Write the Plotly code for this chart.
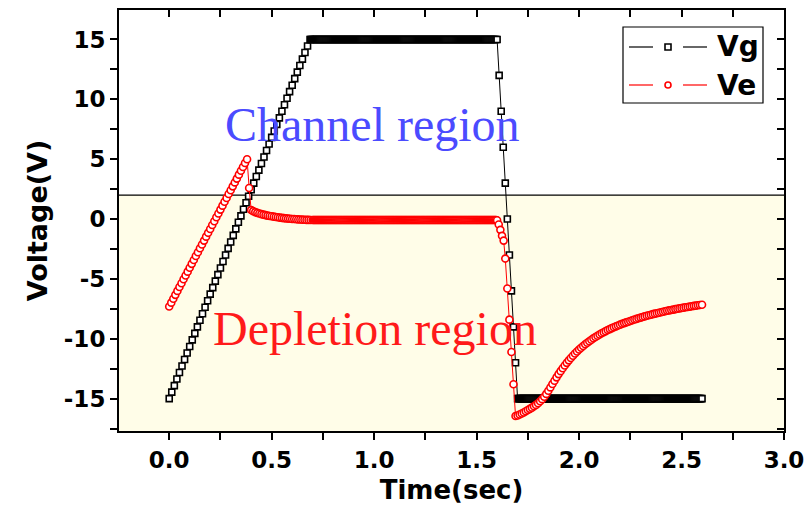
import plotly.graph_objects as go

# ---------------- data ----------------
# Vg : gate voltage
VG_RAMP_T0, VG_RAMP_DT = 0.0, 0.0125
VG_RAMP = [-15.0, -14.45, -13.91, -13.36, -12.82, -12.27, -11.73, -11.18, -10.64, -10.09,
           -9.55, -9.0, -8.45, -7.91, -7.36, -6.82, -6.27, -5.73, -5.18, -4.64,
           -4.09, -3.55, -3.0, -2.45, -1.91, -1.36, -0.82, -0.27, 0.27, 0.82,
           1.36, 1.91, 2.45, 3.0, 3.55, 4.09, 4.64, 5.18, 5.73, 6.27,
           6.82, 7.36, 7.91, 8.45, 9.0, 9.55, 10.09, 10.64, 11.18, 11.73,
           12.27, 12.82, 13.36, 13.91, 14.45, 15.0]
VG_HIGH_LEVEL, VG_HIGH_START, VG_HIGH_END = 15.0, 0.69, 1.595
VG_DROP_T0, VG_DROP_DT = 1.60, 0.01
VG_DROP = [15.0, 12.0, 9.0, 6.0, 3.0, 0.0, -3.0, -6.0, -9.0, -12.0, -15.0]
VG_LOW_LEVEL, VG_LOW_START, VG_LOW_END = -15.0, 1.705, 2.60
PLATEAU_DT = 0.005

# Ve : measured voltage
VE_RISE_T0, VE_RISE_DT = 0.0, 0.01
VE_RISE = [-7.30, -6.98, -6.65, -6.33, -6.00, -5.68, -5.36, -5.03, -4.71, -4.39,
           -4.06, -3.74, -3.42, -3.09, -2.77, -2.44, -2.12, -1.80, -1.47, -1.15,
           -0.83, -0.50, -0.18, 0.15, 0.47, 0.79, 1.12, 1.44, 1.76, 2.09,
           2.41, 2.73, 3.06, 3.38, 3.71, 4.03, 4.35, 4.68, 5.00]
VE_KICK_T = [0.39]
VE_KICK = [2.6]
VE_SETTLE_T0, VE_SETTLE_DT = 0.40, 0.01
VE_SETTLE = [0.75, 0.66, 0.58, 0.52, 0.46, 0.41, 0.37, 0.33, 0.29, 0.26,
             0.23, 0.20, 0.17, 0.15, 0.12, 0.10, 0.08, 0.06, 0.04, 0.03,
             0.01, 0.00, -0.02, -0.03, -0.04, -0.05, -0.06, -0.07, -0.07, -0.08,
             -0.08]
VE_FLAT_LEVEL, VE_FLAT_START, VE_FLAT_END = -0.08, 0.705, 1.595
VE_DROP_T = [1.600, 1.608, 1.616, 1.624, 1.632, 1.640, 1.650, 1.660, 1.670, 1.680, 1.690]
VE_DROP = [-0.10, -0.45, -0.90, -1.40, -1.80, -3.30, -5.80, -8.40, -11.10, -13.80, -16.45]
VE_REC_T0, VE_REC_DT = 1.70, 0.01
VE_REC = [-16.40, -16.32, -16.24, -16.15, -16.05, -15.95, -15.85, -15.75, -15.64, -15.52,
          -15.38, -15.22, -15.04, -14.84, -14.60, -14.34, -14.06, -13.78, -13.50, -13.22,
          -12.95, -12.70, -12.46, -12.23, -12.01, -11.80, -11.60, -11.41, -11.23, -11.06,
          -10.90, -10.75, -10.60, -10.46, -10.33, -10.20, -10.08, -9.96, -9.85, -9.74,
          -9.64, -9.54, -9.45, -9.36, -9.27, -9.19, -9.11, -9.03, -8.96, -8.89,
          -8.82, -8.75, -8.69, -8.63, -8.57, -8.51, -8.45, -8.39, -8.34, -8.28,
          -8.23, -8.18, -8.13, -8.08, -8.03, -7.99, -7.94, -7.90, -7.86, -7.82,
          -7.78, -7.74, -7.70, -7.66, -7.63, -7.59, -7.56, -7.52, -7.49, -7.46,
          -7.43, -7.40, -7.37, -7.34, -7.31, -7.28, -7.25, -7.23, -7.20, -7.18,
          -7.15]

X_TICKS = [0.0, 0.5, 1.0, 1.5, 2.0, 2.5, 3.0]
X_TICK_TEXT = ["0.0", "0.5", "1.0", "1.5", "2.0", "2.5", "3.0"]
X_MINOR = [-0.25, 0.25, 0.75, 1.25, 1.75, 2.25, 2.75]
Y_TICKS = [-15, -10, -5, 0, 5, 10, 15]
Y_TICK_TEXT = ["-15", "-10", "-5", "0", "5", "10", "15"]
Y_MINOR = [-17.5, -12.5, -7.5, -2.5, 2.5, 7.5, 12.5]
BOUNDARY_V = 2.0


def sampled(t0, dt, vals):
    return [round(t0 + i * dt, 4) for i in range(len(vals))], list(vals)


def plateau(level, start, end, dt):
    n = int(round((end - start) / dt)) + 1
    return [round(start + i * dt, 4) for i in range(n)], [level] * n


segs_vg = [sampled(VG_RAMP_T0, VG_RAMP_DT, VG_RAMP),
           plateau(VG_HIGH_LEVEL, VG_HIGH_START, VG_HIGH_END, PLATEAU_DT),
           sampled(VG_DROP_T0, VG_DROP_DT, VG_DROP),
           plateau(VG_LOW_LEVEL, VG_LOW_START, VG_LOW_END, PLATEAU_DT)]
segs_ve = [sampled(VE_RISE_T0, VE_RISE_DT, VE_RISE),
           (VE_KICK_T, VE_KICK),
           sampled(VE_SETTLE_T0, VE_SETTLE_DT, VE_SETTLE),
           plateau(VE_FLAT_LEVEL, VE_FLAT_START, VE_FLAT_END, PLATEAU_DT),
           (VE_DROP_T, VE_DROP),
           sampled(VE_REC_T0, VE_REC_DT, VE_REC)]

vg_t, vg_v, ve_t, ve_v = [], [], [], []
for t, v in segs_vg:
    vg_t += t; vg_v += v
for t, v in segs_ve:
    ve_t += t; ve_v += v

X_RANGE = [-0.245, 3.0]
Y_RANGE = [-17.7, 17.46]

fig = go.Figure()
fig.add_trace(go.Scatter(x=vg_t, y=vg_v, name="Vg", mode="lines+markers",
                         line=dict(color="black", width=1),
                         marker=dict(symbol="square", size=6, color="white",
                                     line=dict(color="black", width=1.6))))
fig.add_trace(go.Scatter(x=ve_t, y=ve_v, name="Ve", mode="lines+markers",
                         line=dict(color="red", width=1),
                         marker=dict(symbol="circle", size=7, color="white",
                                     line=dict(color="red", width=1.6))))
# dummy trace so the mirrored (top / right) axes are drawn
fig.add_trace(go.Scatter(x=[None], y=[None], xaxis="x2", yaxis="y2",
                         showlegend=False, hoverinfo="skip"))

tickfont = dict(family="DejaVu Sans", size=23, color="black", weight="bold")
xtitlefont = dict(family="DejaVu Sans", size=26, color="black", weight="bold")
ytitlefont = dict(family="DejaVu Sans", size=27, color="black", weight="bold")
axis_common = dict(showgrid=False, zeroline=False, showline=True, linecolor="black",
                   linewidth=2, tickcolor="black", tickwidth=2, ticklen=7)

fig.update_layout(
    width=809, height=506,
    margin=dict(l=119, r=25, t=10, b=75, autoexpand=False),
    paper_bgcolor="white", plot_bgcolor="white",
    showlegend=False,
    xaxis=dict(range=X_RANGE, tickvals=X_TICKS, ticktext=X_TICK_TEXT, ticks="outside",
               tickfont=tickfont, minor=dict(tickvals=X_MINOR, ticks="outside", ticklen=7,
                                             tickwidth=2, tickcolor="black"),
               title=dict(text="Time(sec)", font=xtitlefont, standoff=9),
               **axis_common),
    xaxis2=dict(range=X_RANGE, overlaying="x", side="top", ticks="inside",
                tickvals=X_TICKS + X_MINOR, showticklabels=False, **axis_common),
    yaxis=dict(range=Y_RANGE, tickvals=Y_TICKS, ticktext=Y_TICK_TEXT, ticks="outside",
               tickfont=tickfont,
               minor=dict(tickvals=Y_MINOR, ticks="outside", ticklen=7, tickwidth=2,
                          tickcolor="black"),
               title=dict(text="Voltage(V)", font=ytitlefont, standoff=8),
               **axis_common),
    yaxis2=dict(range=Y_RANGE, overlaying="y", side="right", ticks="inside",
                tickvals=Y_TICKS + Y_MINOR, showticklabels=False, **axis_common),
)

# depletion-region background and boundary line
fig.add_shape(type="rect", xref="paper", x0=0, x1=1, yref="y", y0=Y_RANGE[0], y1=BOUNDARY_V,
              fillcolor="#FFFDE8", line=dict(width=0), layer="below")
fig.add_shape(type="line", xref="paper", x0=0, x1=1, yref="y", y0=BOUNDARY_V, y1=BOUNDARY_V,
              line=dict(color="black", width=1.2), layer="below")

# region labels
fig.add_annotation(x=0.99, y=7.9, xref="x", yref="y", text="Channel region", showarrow=False,
                   font=dict(family="Liberation Serif", size=48, color="#4B4BFF"))
fig.add_annotation(x=1.005, y=-9.1, xref="x", yref="y", text="Depletion region",
                   showarrow=False,
                   font=dict(family="Liberation Serif", size=48, color="#FF1A1A"))

# custom legend (box, line samples, marker samples, labels)
def px2paper(px, py):
    return (px - 119) / 665.0, (431 - py) / 421.0

bx0, by0 = px2paper(623, 103)
bx1, by1 = px2paper(763, 27)
fig.add_shape(type="rect", xref="paper", yref="paper", x0=bx0, x1=bx1, y0=by0, y1=by1,
              line=dict(color="black", width=1.2), fillcolor="white", layer="above")
for row_py, col, sym in [(47, "black", "square"), (85, "red", "circle")]:
    for a, b in [(629, 653), (683, 707)]:
        xa, ya = px2paper(a, row_py)
        xb, _ = px2paper(b, row_py)
        fig.add_shape(type="line", xref="paper", yref="paper", x0=xa, x1=xb, y0=ya, y1=ya,
                      line=dict(color=col, width=1.2))
    mx0, my0 = px2paper(665, row_py + 3)
    mx1, my1 = px2paper(671, row_py - 3)
    fig.add_shape(type="rect" if sym == "square" else "circle", xref="paper", yref="paper",
                  x0=mx0, x1=mx1, y0=my0, y1=my1, fillcolor="white",
                  line=dict(color=col, width=1.6))
for row_py, label in [(47, "Vg"), (85, "Ve")]:
    lx, ly = px2paper(715, row_py)
    fig.add_annotation(x=lx, y=ly, xref="paper", yref="paper", text=label, showarrow=False,
                       xanchor="left", yanchor="middle",
                       font=dict(family="DejaVu Sans", size=28, color="black",
                                 weight="bold"))

fig.write_html("out.html")
